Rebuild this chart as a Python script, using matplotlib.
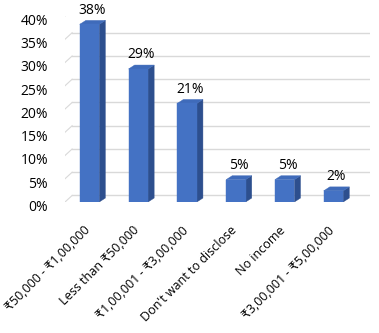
import matplotlib
matplotlib.use("Agg")
import matplotlib.pyplot as plt
from matplotlib.patches import Rectangle, Polygon
from matplotlib.transforms import ScaledTranslation

plt.rcParams['font.family'] = ['Open Sans', 'DejaVu Sans']

categories = ["₹50,000 - ₹1,00,000", "Less than ₹50,000", "₹1,00,001 - ₹3,00,000",
              "Don't want to disclose", "No income", "₹3,00,001 - ₹5,00,000"]
values = [38.2, 28.6, 21.2, 4.8, 4.8, 2.4]
yticks = [0, 5, 10, 15, 20, 25, 30, 35, 40]

FRONT = '#4472C4'
TOP = '#3F6BBA'
SIDE = '#2D4F8E'
GRID = '#D9D9D9'


def main():
    fig = plt.figure(figsize=(3.79, 3.33), dpi=100)
    ax = fig.add_axes([0.1718, 0.3934, 0.8045, 0.5586])
    ax.set_xlim(-0.5, 5.75)
    ax.set_ylim(0, 40)
    for s in ax.spines.values():
        s.set_visible(False)

    def shift(dx, dy):
        # offset in pixels (dpi 100)
        return ax.transData + ScaledTranslation(dx / 100, dy / 100, fig.dpi_scale_trans)

    back = shift(7, 6.5)
    front = shift(-5, -4.5)

    # back wall gridlines and side-wall diagonals
    x0, x1 = ax.get_xlim()
    for t in yticks:
        ax.plot([x0, x1], [t, t], color=GRID, lw=1, transform=back, zorder=1)
        p0 = front.transform((x0, t))
        p1 = back.transform((x0, t))
        ax.plot([p0[0], p1[0]], [p0[1], p1[1]], color=GRID, lw=0.8,
                transform=None, zorder=1)
        ax.text(x0, t, f"{t}%", transform=shift(-17, -5.5), ha='right',
                va='center', fontsize=10, color='#000000')

    w = 0.4
    ddx = 0.125
    ddy = 0.85
    for i, v in enumerate(values):
        l, r = i - w / 2, i + w / 2
        ax.add_patch(Polygon([(r, 0), (r + ddx, ddy), (r + ddx, v + ddy), (r, v)],
                             closed=True, facecolor=SIDE, edgecolor=SIDE, lw=0.3, zorder=3))
        ax.add_patch(Polygon([(l, v), (l + ddx, v + ddy), (r + ddx, v + ddy), (r, v)],
                             closed=True, facecolor=TOP, edgecolor=TOP, lw=0.3, zorder=3))
        ax.add_patch(Rectangle((l, 0), w, v, facecolor=FRONT, edgecolor=FRONT,
                               lw=0.3, zorder=4))
        ax.text(i + ddx / 2, v + ddy + 0.6, f"{round(v):.0f}%", ha='center',
                va='bottom', fontsize=10, zorder=5)

    ax.set_yticks([])
    ax.set_xticks(range(len(categories)))
    ax.set_xticklabels(categories, rotation=45, ha='right', va='center',
                       rotation_mode='anchor', fontsize=9)
    ax.tick_params(axis='x', length=0, pad=19)
    for lab in ax.get_xticklabels():
        lab.set_transform(lab.get_transform() + ScaledTranslation(-0.01, 0, fig.dpi_scale_trans))

    fig.savefig("out.png", dpi=100)


if __name__ == "__main__":
    main()
